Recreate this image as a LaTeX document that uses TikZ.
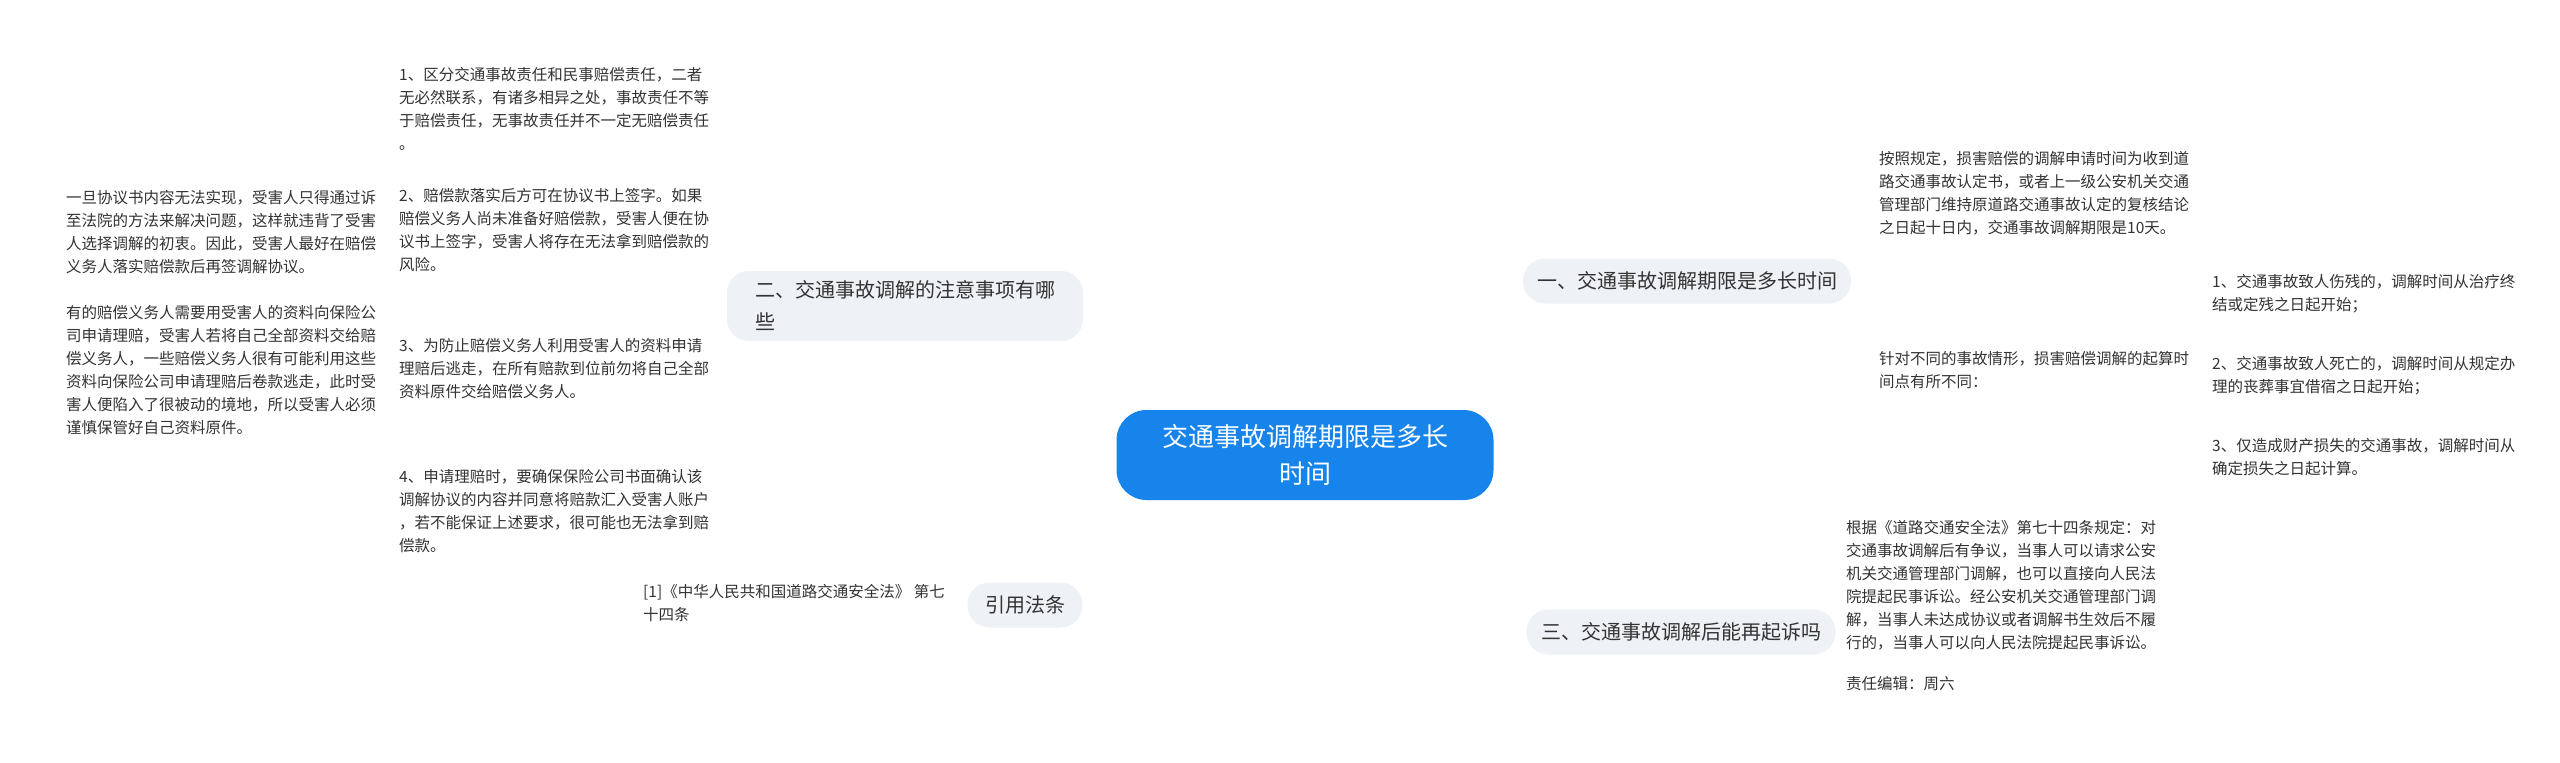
\documentclass[tikz,border=0pt]{standalone}
\usepackage{fontspec}
\setmainfont{Noto Sans CJK SC}
\usetikzlibrary{calc}
\pgfdeclarelayer{bg}\pgfsetlayers{bg,main}
\definecolor{lnblue}{RGB}{21,101,192}
\definecolor{ctrblue}{RGB}{22,132,234}
\definecolor{pill}{RGB}{238,241,245}
\definecolor{txtc}{RGB}{51,51,51}
\tikzset{
 txt/.style={font=\fontsize{15.5}{23}\selectfont, align=left, inner sep=0pt, text=txtc},
 lvl/.style={fill=pill, rounded corners=22pt, font=\fontsize{20}{30}\selectfont, text=txtc, align=left, inner xsep=14pt, minimum height=45pt},
 conn/.style={draw=lnblue, line width=2.2pt},
 brk/.style={conn, rounded corners=12pt}
}
\begin{document}
\begin{tikzpicture}[x=1pt,y=-1pt]
\useasboundingbox[fill=white] (0,0) rectangle (2560,763);
\node[fill=ctrblue, rounded corners=30pt, minimum width=377pt, minimum height=90pt, text=white, font=\fontsize{26}{37}\selectfont, align=center] (C) at (1305,455) {交通事故调解期限是多长\\时间};
\node[lvl, minimum width=328pt] (N1) at (1687,281) {一、交通事故调解期限是多长时间};
\node[lvl, minimum width=356pt, minimum height=70pt, font=\fontsize{20}{32}\selectfont] (N2) at (905,306) {二、交通事故调解的注意事项有哪\\些};
\node[lvl, minimum width=309pt] (N3) at (1681,632) {三、交通事故调解后能再起诉吗};
\node[lvl, minimum width=115pt] (N4) at (1025,605) {引用法条};
% branch 1
\node[txt, anchor=north west] (A1) at (1879,151) {按照规定，损害赔偿的调解申请时间为收到道\\路交通事故认定书，或者上一级公安机关交通\\管理部门维持原道路交通事故认定的复核结论\\之日起十日内，交通事故调解期限是10天。};
\node[txt, anchor=north west] (A2) at (1879,351) {针对不同的事故情形，损害赔偿调解的起算时\\间点有所不同：};
\node[txt, anchor=north west] (S1) at (2212,274) {1、交通事故致人伤残的，调解时间从治疗终\\结或定残之日起开始；};
\node[txt, anchor=north west] (S2) at (2212,356) {2、交通事故致人死亡的，调解时间从规定办\\理的丧葬事宜借宿之日起开始；};
\node[txt, anchor=north west] (S3) at (2212,438) {3、仅造成财产损失的交通事故，调解时间从\\确定损失之日起计算。};
% branch 3
\node[txt, anchor=north west] (B1) at (1846,520) {根据《道路交通安全法》第七十四条规定：对\\交通事故调解后有争议，当事人可以请求公安\\机关交通管理部门调解，也可以直接向人民法\\院提起民事诉讼。经公安机关交通管理部门调\\解，当事人未达成协议或者调解书生效后不履\\行的，当事人可以向人民法院提起民事诉讼。};
\node[txt, anchor=north west] (B2) at (1846,676) {责任编辑：周六};
% branch 2
\node[txt, anchor=north west] (D1) at (399,67) {1、区分交通事故责任和民事赔偿责任，二者\\无必然联系，有诸多相异之处，事故责任不等\\于赔偿责任，无事故责任并不一定无赔偿责任\\。};
\node[txt, anchor=north west] (D2) at (399,188) {2、赔偿款落实后方可在协议书上签字。如果\\赔偿义务人尚未准备好赔偿款，受害人便在协\\议书上签字，受害人将存在无法拿到赔偿款的\\风险。};
\node[txt, anchor=north west] (D3) at (399,338) {3、为防止赔偿义务人利用受害人的资料申请\\理赔后逃走，在所有赔款到位前勿将自己全部\\资料原件交给赔偿义务人。};
\node[txt, anchor=north west] (D4) at (399,469) {4、申请理赔时，要确保保险公司书面确认该\\调解协议的内容并同意将赔款汇入受害人账户\\，若不能保证上述要求，很可能也无法拿到赔\\偿款。};
\node[txt, anchor=north west] (L2) at (66,190) {一旦协议书内容无法实现，受害人只得通过诉\\至法院的方法来解决问题，这样就违背了受害\\人选择调解的初衷。因此，受害人最好在赔偿\\义务人落实赔偿款后再签调解协议。};
\node[txt, anchor=north west] (L3) at (66,305) {有的赔偿义务人需要用受害人的资料向保险公\\司申请理赔，受害人若将自己全部资料交给赔\\偿义务人，一些赔偿义务人很有可能利用这些\\资料向保险公司申请理赔后卷款逃走，此时受\\害人便陷入了很被动的境地，所以受害人必须\\谨慎保管好自己资料原件。};
% branch 4
\node[txt, anchor=north west] (R1) at (643,584) {[1]《中华人民共和国道路交通安全法》 第七\\十四条};
\coordinate (b1) at (1862,0);
\coordinate (b2) at (2199,0);
\coordinate (b3) at (1836,0);
\coordinate (b4) at (708,0);
\begin{pgfonlayer}{bg}
\draw[conn] (C.center) to[out=0,in=180] (N1.west);
\draw[conn] (C.center) to[out=0,in=180] (N3.west);
\draw[conn] (C.center) to[out=180,in=0] (N2.east);
\draw[conn] (C.center) to[out=180,in=0] (N4.east);
\draw[brk] (N1.east) -- (N1.east -| b1) |- (A1.west);
\draw[brk] (N1.east -| b1) |- (A2.west);
\draw[conn] (A2.east) -- (A2.east -| b2);
\draw[brk] (A2.east -| b2) |- (S1.west);
\draw[brk] (A2.east -| b2) |- (S2.west);
\draw[brk] (A2.east -| b2) |- (S3.west);
\draw[brk] (N3.east) -- (N3.east -| b3) |- (B1.west);
\draw[brk] (N3.east -| b3) |- (B2.west);
\draw[brk] (N2.west) -- (N2.west -| b4) |- ($(D1.east)+(8,0)$);
\draw[brk] (N2.west -| b4) |- ($(D2.east)+(6,0)$);
\draw[brk] (N2.west -| b4) |- ($(D3.east)+(6,0)$);
\draw[brk] (N2.west -| b4) |- ($(D4.east)+(6,0)$);
\draw[conn] ($(L2.east)+(6,0)$) -- ($(D2.west)+(-6,0)$);
\draw[conn] ($(L3.east)+(6,0)$) -- (L3.east -| D3.west) ++(-6,0);
\draw[conn] (N4.west) -- ($(R1.east)+(8,0)$);
\end{pgfonlayer}
\end{tikzpicture}
\end{document}
